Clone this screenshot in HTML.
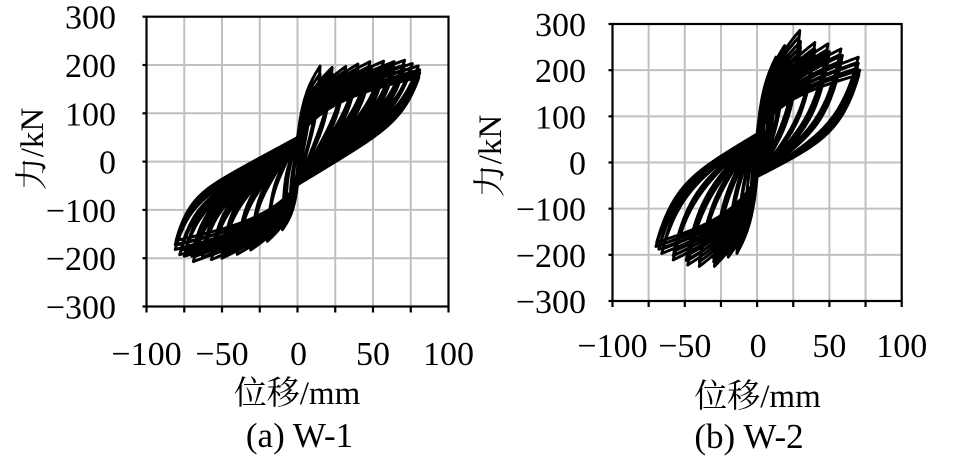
<!DOCTYPE html>
<html>
<head>
<meta charset="utf-8">
<style>
html,body{margin:0;padding:0;background:#fff;}
svg{display:block;}
text{font-family:"Liberation Serif","Noto Serif CJK SC",serif;fill:#000;}
.tk{font-size:34px;}
.tt{font-size:33px;}
.cap{font-size:35px;}
</style>
</head>
<body>
<svg id="s" width="953" height="467" viewBox="0 0 953 467" xmlns="http://www.w3.org/2000/svg">
<rect x="0" y="0" width="953" height="467" fill="#fff"/>
<!-- Left chart grid -->
<g stroke="#c0c0c0" stroke-width="2">
<line x1="184.25" y1="16.7" x2="184.25" y2="306.5"/>
<line x1="222" y1="16.7" x2="222" y2="306.5"/>
<line x1="259.75" y1="16.7" x2="259.75" y2="306.5"/>
<line x1="297.5" y1="16.7" x2="297.5" y2="306.5"/>
<line x1="335.25" y1="16.7" x2="335.25" y2="306.5"/>
<line x1="373" y1="16.7" x2="373" y2="306.5"/>
<line x1="410.75" y1="16.7" x2="410.75" y2="306.5"/>
<line x1="146.5" y1="65" x2="448.5" y2="65"/>
<line x1="146.5" y1="113.3" x2="448.5" y2="113.3"/>
<line x1="146.5" y1="161.6" x2="448.5" y2="161.6"/>
<line x1="146.5" y1="209.9" x2="448.5" y2="209.9"/>
<line x1="146.5" y1="258.2" x2="448.5" y2="258.2"/>
</g>
<!-- Right chart grid -->
<g stroke="#c0c0c0" stroke-width="2">
<line x1="648.65" y1="24" x2="648.65" y2="301"/>
<line x1="684.8" y1="24" x2="684.8" y2="301"/>
<line x1="720.95" y1="24" x2="720.95" y2="301"/>
<line x1="757.1" y1="24" x2="757.1" y2="301"/>
<line x1="793.25" y1="24" x2="793.25" y2="301"/>
<line x1="829.4" y1="24" x2="829.4" y2="301"/>
<line x1="865.55" y1="24" x2="865.55" y2="301"/>
<line x1="612.5" y1="70.17" x2="901.7" y2="70.17"/>
<line x1="612.5" y1="116.33" x2="901.7" y2="116.33"/>
<line x1="612.5" y1="162.5" x2="901.7" y2="162.5"/>
<line x1="612.5" y1="208.67" x2="901.7" y2="208.67"/>
<line x1="612.5" y1="254.83" x2="901.7" y2="254.83"/>
</g>

<path id="c1" d="" fill="none" stroke="#000" stroke-width="2.9" stroke-linejoin="round" stroke-linecap="round"/>
<path id="c2" d="" fill="none" stroke="#000" stroke-width="2.9" stroke-linejoin="round" stroke-linecap="round"/>

<!-- Left axes box -->
<g stroke="#000" stroke-width="2.2" fill="none">
<rect x="146.5" y="16.7" width="302" height="289.8"/>
<line x1="142.5" y1="16.7" x2="146.5" y2="16.7"/>
<line x1="142.5" y1="65" x2="146.5" y2="65"/>
<line x1="142.5" y1="113.3" x2="146.5" y2="113.3"/>
<line x1="142.5" y1="161.6" x2="146.5" y2="161.6"/>
<line x1="142.5" y1="209.9" x2="146.5" y2="209.9"/>
<line x1="142.5" y1="258.2" x2="146.5" y2="258.2"/>
<line x1="142.5" y1="306.5" x2="146.5" y2="306.5"/>
<line x1="146.5" y1="306.5" x2="146.5" y2="312.5"/>
<line x1="184.25" y1="306.5" x2="184.25" y2="312.5"/>
<line x1="222" y1="306.5" x2="222" y2="312.5"/>
<line x1="259.75" y1="306.5" x2="259.75" y2="312.5"/>
<line x1="297.5" y1="306.5" x2="297.5" y2="312.5"/>
<line x1="335.25" y1="306.5" x2="335.25" y2="312.5"/>
<line x1="373" y1="306.5" x2="373" y2="312.5"/>
<line x1="410.75" y1="306.5" x2="410.75" y2="312.5"/>
<line x1="448.5" y1="306.5" x2="448.5" y2="312.5"/>
</g>
<!-- Right axes box -->
<g stroke="#000" stroke-width="2.2" fill="none">
<rect x="612.5" y="24" width="289.2" height="277"/>
<line x1="608.5" y1="24" x2="612.5" y2="24"/>
<line x1="608.5" y1="70.17" x2="612.5" y2="70.17"/>
<line x1="608.5" y1="116.33" x2="612.5" y2="116.33"/>
<line x1="608.5" y1="162.5" x2="612.5" y2="162.5"/>
<line x1="608.5" y1="208.67" x2="612.5" y2="208.67"/>
<line x1="608.5" y1="254.83" x2="612.5" y2="254.83"/>
<line x1="608.5" y1="301" x2="612.5" y2="301"/>
<line x1="612.5" y1="301" x2="612.5" y2="307"/>
<line x1="648.65" y1="301" x2="648.65" y2="307"/>
<line x1="684.8" y1="301" x2="684.8" y2="307"/>
<line x1="720.95" y1="301" x2="720.95" y2="307"/>
<line x1="757.1" y1="301" x2="757.1" y2="307"/>
<line x1="793.25" y1="301" x2="793.25" y2="307"/>
<line x1="829.4" y1="301" x2="829.4" y2="307"/>
<line x1="865.55" y1="301" x2="865.55" y2="307"/>
<line x1="901.7" y1="301" x2="901.7" y2="307"/>
</g>

<!-- Left labels -->
<g class="tk" text-anchor="end">
<text x="116" y="28.7">300</text>
<text x="116" y="77">200</text>
<text x="116" y="125.3">100</text>
<text x="116" y="173.6">0</text>
<text x="116" y="221.9">−100</text>
<text x="116" y="270.2">−200</text>
<text x="116" y="318.5">−300</text>
</g>
<g class="tk" text-anchor="middle">
<text x="146.5" y="365">−100</text>
<text x="222" y="365">−50</text>
<text x="298.5" y="365">0</text>
<text x="373" y="365">50</text>
<text x="448.5" y="365">100</text>
</g>
<text class="tt" x="297" y="404" text-anchor="middle">位移/mm</text>
<text class="tt" transform="translate(43,149) rotate(-90)" text-anchor="middle">力/kN</text>
<text class="cap" x="299.5" y="447" text-anchor="middle">(a) W-1</text>

<!-- Right labels -->
<g class="tk" text-anchor="end">
<text x="586" y="36">300</text>
<text x="586" y="82.2">200</text>
<text x="586" y="128.3">100</text>
<text x="586" y="174.5">0</text>
<text x="586" y="220.7">−100</text>
<text x="586" y="266.8">−200</text>
<text x="586" y="313">−300</text>
</g>
<g class="tk" text-anchor="middle">
<text x="612.5" y="357">−100</text>
<text x="684.8" y="357">−50</text>
<text x="758.1" y="357">0</text>
<text x="829.4" y="357">50</text>
<text x="901.7" y="357">100</text>
</g>
<text class="tt" x="757.5" y="407" text-anchor="middle">位移/mm</text>
<text class="tt" transform="translate(501,156) rotate(-90)" text-anchor="middle">力/kN</text>
<text class="cap" x="749" y="448" text-anchor="middle">(b) W-2</text>
</svg>
<script>
function expand(cyc){
  var out=[];
  for(var i=0;i<cyc.length;i++){
    var c=cyc[i];
    out.push(c);
    if(c[0]>=20){
      out.push([c[0]-0.6,c[1]*0.95,c[2]-0.6,c[3]*0.95]);
    }
  }
  return out;
}
function build(cfg){
  var pts=[], cyc=expand(cfg.cyc), N=180, j, s, x, y, u;
  var A=cfg.a, B=cfg.b, den=1-Math.exp(-A);
  function g(u){ return B*(1-Math.exp(-A*u))/den + (1-B)*u; }
  var D0=cyc[0][0], P0=cyc[0][1];
  for(j=0;j<=20;j++){x=D0*j/20;pts.push([x,P0*x/D0]);}
  for(var i=0;i<cyc.length;i++){
    var Dp=cyc[i][0],Pp=cyc[i][1],Dn=cyc[i][2],Pn=cyc[i][3];
    var c2=cfg.cl*Math.min(1,(Dp+Dn)/24);
    var n1=cfg.fl*(Pp-c2)/Dp, R2=Pp+c2-n1*Dp;
    if(R2<0){n1=(Pp+c2)/Dp;R2=0;}
    for(j=1;j<=N;j++){
      s=j/N; x=Dp-(Dp+Dn)*s;
      if(x>=0) y=-c2+n1*x+R2*Math.exp(-cfg.kl*(Dp-x)/Dp);
      else { u=-x/Dn; y=-c2-(Pn-c2)*g(u); }
      pts.push([x,y]);
    }
    var nx=cyc[i+1]||cyc[i];
    var Dq=nx[0],Pq=nx[1];
    var c=cfg.cu*Math.min(1,(Dq+Dn)/24);
    var m1=cfg.fu*(Pn-c)/Dn, R=Pn+c-m1*Dn;
    if(R<0){m1=(Pn+c)/Dn;R=0;}
    for(j=1;j<=N;j++){
      s=j/N; x=-Dn+(Dn+Dq)*s;
      if(x<0) y=c+m1*x-R*Math.exp(-cfg.ku*(x+Dn)/Dn);
      else { u=x/Dq; y=c+(Pq-c)*g(u); }
      pts.push([x,y]);
    }
  }
  var d='';
  for(j=0;j<pts.length;j++){
    d+=(j?'L':'M')+(cfg.ox+pts[j][0]*cfg.sx).toFixed(1)+','+(cfg.oy-pts[j][1]*cfg.sy).toFixed(1);
  }
  return d;
}
var W1={ox:297.5,sx:1.51,oy:161.6,sy:0.483,cu:50,cl:48,fu:1.2,fl:1.2,ku:10,kl:8,a:4,b:0.55,
cyc:[[3,60,3,55],[6,115,5,95],[10,165,8,125],[15,198,10,141],[15,182,10,130],
[23,195,20,165],[23,182,20,155],[32,197,31,183],[32,185,31,172],[40,202,40,192],
[40,190,40,182],[48,207,50,200],[49,195,50,190],[57,208,57,203],[58,196,57,194],
[64,207,63,198],[64,196,63,190],[71,210,69,207],[71,200,70,196],[76,203,75,196],
[80,198,78,193],[81,190,81,182],[81,184,81,172]]};
var W2={ox:757.1,sx:1.446,oy:162.5,sy:0.4617,cu:62,cl:31,fu:1.15,fl:0.7,ku:6,kl:6,a:4,b:0.55,
cyc:[[3,75,3,60],[6,140,5,110],[10,195,9,160],[13,228,14,197],[14,212,14,185],
[19,253,20,205],[20,238,21,198],[29.5,286,29.5,225],[30,262,30,215],[30,250,30,208],
[40,260,40,225],[40,245,40,215],[49,257,48,222],[50,240,49,212],[58,246,58,211],
[59,232,58,202],[70,228,66,197],[70,215,68,188],[71,200,70,182]]};
document.getElementById('c1').setAttribute('d',build(W1));
document.getElementById('c2').setAttribute('d',build(W2));
</script>
</body>
</html>
